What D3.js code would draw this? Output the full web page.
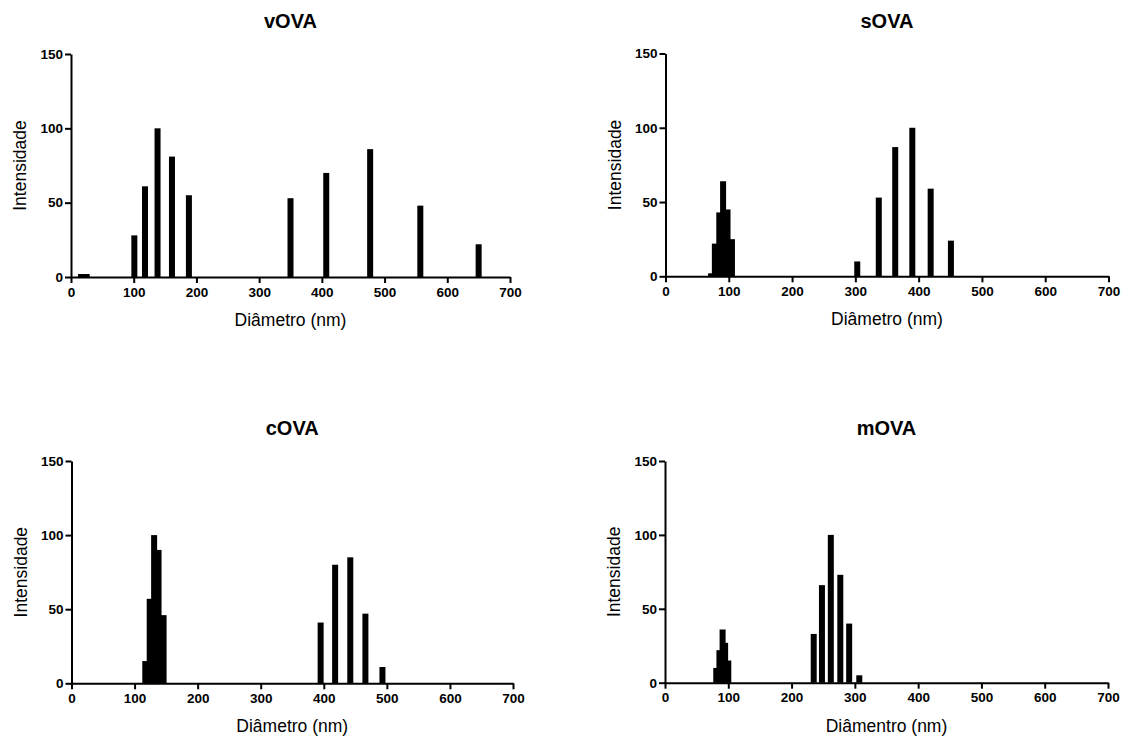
<!DOCTYPE html>
<html>
<head>
<meta charset="utf-8">
<script src="https://cdn.jsdelivr.net/npm/d3@7"></script>
<style>
  html, body { margin: 0; padding: 0; background: #fff; }
  svg { display: block; }
  text { font-family: "Liberation Sans", Arial, Helvetica, sans-serif; fill: #000; }
</style>
</head>
<body>
<svg id="chart" width="1129" height="736"></svg>
<script>
// ---------- DATA ----------
const xTicks = [0, 100, 200, 300, 400, 500, 600, 700];
const yTicks = [0, 50, 100, 150];

const vOVA_diam = [16, 25, 101, 118, 138, 161, 188, 350, 407, 477, 557, 650];
const vOVA_int  = [2, 2, 28, 61, 100, 81, 55, 53, 70, 86, 48, 22];

const sOVA_diam = [72, 78, 85, 91, 98, 105, 303, 337, 363, 390, 419, 451];
const sOVA_int  = [2, 22, 43, 64, 45, 25, 10, 53, 87, 100, 59, 24];

const cOVA_diam = [117, 124, 131, 138, 146, 395, 418, 442, 466, 493];
const cOVA_int  = [15, 57, 100, 90, 46, 41, 80, 85, 47, 11];

const mOVA_diam = [81, 86, 91, 95, 100, 235, 248, 262, 277, 291, 307];
const mOVA_int  = [10, 22, 36, 27, 15, 33, 66, 100, 73, 40, 5];

const titles  = ["vOVA", "sOVA", "cOVA", "mOVA"];
const xLabels = ["Diâmetro (nm)", "Diâmetro (nm)", "Diâmetro (nm)", "Diâmentro (nm)"];
const yLabel  = "Intensidade";

// ---------- LAYOUT ----------
const panels = [
  { diam: vOVA_diam, vals: vOVA_int, x0: 71,    x1: 510,   y0: 277,   y1: 54 },
  { diam: sOVA_diam, vals: sOVA_int, x0: 665.5, x1: 1108.5, y0: 276.3, y1: 53.5 },
  { diam: cOVA_diam, vals: cOVA_int, x0: 71.5,  x1: 513,   y0: 683.3, y1: 461 },
  { diam: mOVA_diam, vals: mOVA_int, x0: 665,   x1: 1108,  y0: 682.7, y1: 461 }
];

const svg = d3.select("#chart");
const barW = 6;

panels.forEach((p, i) => {
  const x = d3.scaleLinear().domain([0, 700]).range([p.x0, p.x1]);
  const y = d3.scaleLinear().domain([0, 150]).range([p.y0, p.y1]);
  const g = svg.append("g");

  // bars
  const data = p.diam.map((d, k) => ({ d, v: p.vals[k] }));
  g.selectAll("rect.bar").data(data).enter().append("rect")
    .attr("class", "bar")
    .attr("x", d => x(d.d) - barW / 2)
    .attr("y", d => y(d.v))
    .attr("width", barW)
    .attr("height", d => y(0) - y(d.v))
    .attr("fill", "#000");

  // x axis
  const xa = g.append("g")
    .attr("transform", `translate(0,${p.y0})`)
    .call(d3.axisBottom(x).tickValues(xTicks).tickSize(6).tickSizeOuter(0).tickPadding(4));
  // y axis
  const ya = g.append("g")
    .attr("transform", `translate(${p.x0},0)`)
    .call(d3.axisLeft(y).tickValues(yTicks).tickSize(6).tickSizeOuter(0).tickPadding(2));

  [xa, ya].forEach(a => {
    a.select(".domain").attr("stroke", "#000").attr("stroke-width", 2);
    a.selectAll(".tick line").attr("stroke", "#000").attr("stroke-width", 2);
    a.selectAll(".tick text")
      .attr("font-family", '"Liberation Sans", Arial, sans-serif')
      .attr("font-size", 13.5)
      .attr("font-weight", "bold")
      .attr("fill", "#000");
  });

  const cx = (p.x0 + p.x1) / 2;
  // title
  g.append("text")
    .attr("x", cx).attr("y", p.y1 - 26)
    .attr("text-anchor", "middle")
    .attr("font-size", 20)
    .attr("font-weight", "bold")
    .text(titles[i]);

  // x label
  g.append("text")
    .attr("x", cx).attr("y", p.y0 + 49)
    .attr("text-anchor", "middle")
    .attr("font-size", 17.5)
    .attr("fill", "#111")
    .text(xLabels[i]);

  // y label
  const ly = (p.y0 + p.y1) / 2;
  g.append("text")
    .attr("transform", `translate(${p.x0 - 45},${ly}) rotate(-90)`)
    .attr("text-anchor", "middle")
    .attr("font-size", 17.5)
    .attr("fill", "#111")
    .text(yLabel);
});
</script>
</body>
</html>
